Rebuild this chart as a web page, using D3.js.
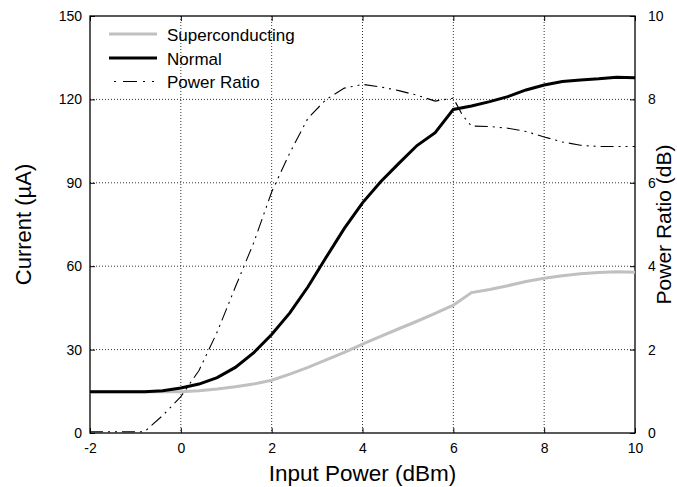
<!DOCTYPE html>
<html><head><meta charset="utf-8">
<script src="https://cdn.jsdelivr.net/npm/d3@7"></script>
<style>body{margin:0;background:#fff}svg{display:block}text{font-family:"Liberation Sans",Arial,Helvetica,sans-serif}</style>
</head><body><svg id="c" width="677" height="487"></svg>
<script>
const xPower = [-2,-1.6,-1.2,-0.8,-0.4,0,0.4,0.8,1.2,1.6,2.0,2.4,2.8,3.2,3.6,4.0,4.4,4.8,5.2,5.6,6.0,6.4,6.8,7.2,7.6,8.0,8.4,8.8,9.2,9.6,10];
const superconducting = [14.8,14.8,14.8,14.8,14.8,14.8,15.2,15.8,16.6,17.6,19.0,21.2,23.6,26.3,29.0,32.0,34.8,37.5,40.2,43.0,46.0,50.5,51.6,53.0,54.5,55.7,56.6,57.3,57.7,58.0,57.8];
const normal = [14.8,14.8,14.8,14.8,15.2,16.2,17.6,19.9,23.6,28.8,35.4,43.2,52.6,63.2,73.6,82.8,90.4,97.0,103.4,108.0,116.4,117.6,119.2,121.0,123.4,125.2,126.4,127.0,127.4,128.0,127.8];
const xRatio = [-2,-1.6,-1.2,-0.8,-0.4,0,0.4,0.8,1.2,1.6,2.0,2.4,2.8,3.2,3.6,4.0,4.4,4.8,5.2,5.6,6.0,6.2,6.4,6.8,7.2,7.6,8.0,8.4,8.8,9.2,9.6,10];
const powerRatio = [0.03,0.03,0.03,0.03,0.42,0.87,1.5,2.42,3.5,4.55,5.78,6.72,7.55,8.0,8.27,8.36,8.3,8.21,8.1,7.96,8.03,7.62,7.36,7.35,7.31,7.23,7.1,6.98,6.9,6.87,6.87,6.87];
const xTicks = [-2,0,2,4,6,8,10];
const yLeftTicks = [0,30,60,90,120,150];
const yRightTicks = [0,2,4,6,8,10];
const legendLabels = ["Superconducting","Normal","Power Ratio"];

const L=90,R=635,T=16,B=433;
const svg=d3.select("#c");
const x=d3.scaleLinear().domain([-2,10]).range([L,R]);
const yL=d3.scaleLinear().domain([0,150]).range([B,T]);
const yR=d3.scaleLinear().domain([0,10]).range([B,T]);

// grid
const g=svg.append("g");
xTicks.slice(1,-1).forEach(v=>g.append("line").attr("x1",x(v)).attr("x2",x(v)).attr("y1",T).attr("y2",B)
  .attr("stroke","#333").attr("stroke-width",1).attr("stroke-dasharray","1,2"));
yLeftTicks.slice(1,-1).forEach(v=>g.append("line").attr("x1",L).attr("x2",R).attr("y1",yL(v)).attr("y2",yL(v))
  .attr("stroke","#333").attr("stroke-width",1).attr("stroke-dasharray","1,2"));

// axes
const fs=14;
const fmt=d=>String(d);
const ax=(sel)=>sel.call(s=>s.select(".domain").remove()).selectAll("text").attr("font-size",fs).attr("fill","#000");
svg.append("g").attr("transform",`translate(0,${B})`).call(d3.axisBottom(x).tickValues(xTicks).tickSize(-5).tickPadding(10).tickFormat(fmt)).call(ax);
svg.append("g").attr("transform",`translate(0,${T})`).call(d3.axisTop(x).tickValues(xTicks).tickSize(-5).tickFormat("")).call(ax);
svg.append("g").attr("transform",`translate(${L},0)`).call(d3.axisLeft(yL).tickValues(yLeftTicks).tickSize(-5).tickPadding(8).tickFormat(fmt)).call(ax);
svg.append("g").attr("transform",`translate(${R},0)`).call(d3.axisRight(yR).tickValues(yRightTicks).tickSize(-5).tickPadding(13).tickFormat(fmt)).call(ax);
svg.selectAll(".tick line").attr("stroke","#000");
svg.append("rect").attr("x",L).attr("y",T).attr("width",R-L).attr("height",B-T).attr("fill","none").attr("stroke","#000").attr("stroke-width",1.3);

// lines
const lineL=(xs)=>d3.line().x((d,i)=>x(xs[i])).y(d=>yL(d));
const lineR=d3.line().x((d,i)=>x(xRatio[i])).y(d=>yR(d));
const plot=svg.append("g");
plot.append("path").datum(superconducting).attr("d",lineL(xPower)).attr("fill","none").attr("stroke","#c0c0c0").attr("stroke-width",3);
plot.append("path").datum(normal).attr("d",lineL(xPower)).attr("fill","none").attr("stroke","#000").attr("stroke-width",3);
const dash="13,5,2,5,2,5";
plot.append("path").datum(powerRatio).attr("d",lineR).attr("fill","none").attr("stroke","#000").attr("stroke-width",1.1).attr("stroke-dasharray",dash);

// legend
const leg=[{c:"#c0c0c0",w:3,d:null,o:0},{c:"#000",w:3,d:null,o:0},{c:"#000",w:1.1,d:"14,6,2,7,2,7",o:24}];
[34,58,81.5].forEach((yy,i)=>{
  svg.append("line").attr("x1",109).attr("x2",157).attr("y1",yy).attr("y2",yy).attr("stroke",leg[i].c).attr("stroke-width",leg[i].w)
    .attr("stroke-dasharray",leg[i].d).attr("stroke-dashoffset",leg[i].o);
  svg.append("text").attr("x",167).attr("y",yy+6.5).attr("font-size",17).text(legendLabels[i]);
});

// titles
svg.append("text").attr("x",(L+R)/2).attr("y",481).attr("text-anchor","middle").attr("font-size",22.5).text("Input Power (dBm)");
svg.append("text").attr("transform",`translate(31,${(T+B)/2}) rotate(-90)`).attr("text-anchor","middle").attr("font-size",22).text("Current (µA)");
svg.append("text").attr("transform",`translate(671,${(T+B)/2}) rotate(-90)`).attr("text-anchor","middle").attr("font-size",21).text("Power Ratio (dB)");
</script></body></html>
